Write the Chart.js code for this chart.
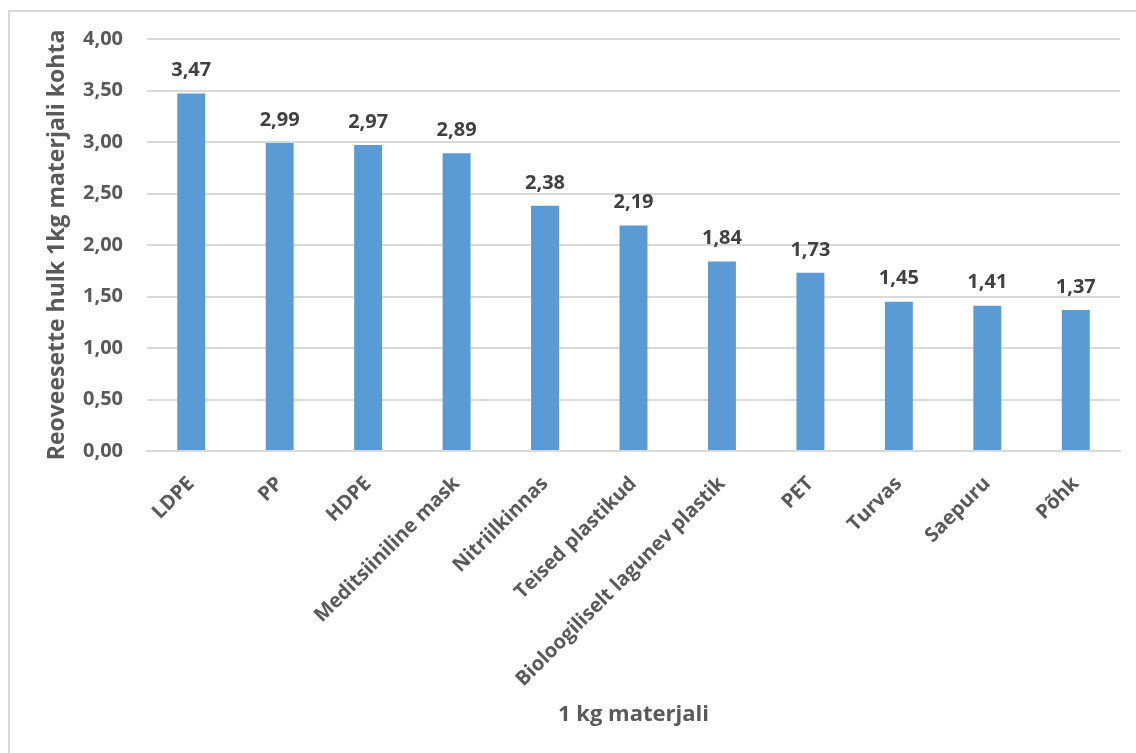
<!DOCTYPE html>
<html>
<head>
<meta charset="utf-8">
<script src="https://cdn.jsdelivr.net/npm/chart.js@4"></script>
<style>
    html, body { margin: 0; padding: 0; background: #fff; }
    #wrap { position: relative; width: 1136px; height: 753px; }
</style>
</head>
<body>
<div id="wrap"><canvas id="myChart"></canvas></div>
<script>
const materials = ['LDPE', 'PP', 'HDPE', 'Meditsiiniline mask', 'Nitriilkinnas', 'Teised plastikud',
    'Bioloogiliselt lagunev plastik', 'PET', 'Turvas', 'Saepuru', 'Põhk'];
const sludgeAmount = [3.47, 2.99, 2.97, 2.89, 2.38, 2.19, 1.84, 1.73, 1.45, 1.41, 1.37];
const yTicks = [0, 0.5, 1, 1.5, 2, 2.5, 3, 3.5, 4];

const fmt = (v) => v.toFixed(2).replace('.', ',');

Chart.defaults.font.family = '"Open Sans", sans-serif';
Chart.defaults.font.weight = 'bold';
Chart.defaults.color = '#595959';

// light frame round the whole chart
const frame = {
    id: 'frame',
    beforeDraw(chart) {
        const ctx = chart.ctx;
        ctx.save();
        ctx.strokeStyle = '#d9d9d9';
        ctx.lineWidth = 2;
        ctx.strokeRect(9, 11, chart.width + 10, chart.height + 10);
        ctx.restore();
    }
};

// value above every bar
const valueLabels = {
    id: 'valueLabels',
    afterDatasetsDraw(chart) {
        const ctx = chart.ctx;
        const meta = chart.getDatasetMeta(0);
        ctx.save();
        ctx.font = 'bold 20px "Open Sans", sans-serif';
        ctx.fillStyle = '#404040';
        ctx.textAlign = 'center';
        ctx.textBaseline = 'bottom';
        meta.data.forEach((bar, i) => {
            ctx.fillText(fmt(sludgeAmount[i]), bar.x, bar.y - 13);
        });
        ctx.restore();
    }
};

const ctx = document.getElementById('myChart').getContext('2d');

new Chart(ctx, {
    type: 'bar',
    data: {
        labels: materials,
        datasets: [{
            data: sludgeAmount,
            backgroundColor: '#5b9bd5',
            categoryPercentage: 1,
            barPercentage: 0.316
        }]
    },
    options: {
        responsive: true,
        maintainAspectRatio: false,
        animation: false,
        layout: { padding: { left: 0, right: 16, top: 39, bottom: 0 } },
        plugins: {
            legend: { display: false },
            tooltip: { enabled: false }
        },
        scales: {
            x: {
                grid: { display: false, drawTicks: false },
                border: { color: '#d9d9d9', width: 2 },
                ticks: {
                    autoSkip: false,
                    minRotation: 45,
                    maxRotation: 45,
                    padding: 21,
                    font: { size: 20 }
                },
                title: {
                    display: true,
                    text: '1 kg materjali',
                    font: { size: 22 },
                    padding: { top: 0, bottom: 25 }
                },
                afterFit(scale) { scale.height = 302; }
            },
            y: {
                min: 0,
                max: 4,
                afterBuildTicks(scale) { scale.ticks = yTicks.map(v => ({ value: v })); },
                grid: { color: '#d9d9d9', lineWidth: 2, drawTicks: false },
                border: { display: false },
                ticks: {
                    padding: 24,
                    font: { size: 20 },
                    callback: (v) => fmt(v)
                },
                title: {
                    display: true,
                    text: 'Reoveesette hulk 1kg materjali kohta',
                    font: { size: 23 },
                    padding: { top: 44, bottom: 0 }
                },
                afterFit(scale) { scale.width = 147; }
            }
        }
    },
    plugins: [frame, valueLabels]
});
</script>
</body>
</html>
